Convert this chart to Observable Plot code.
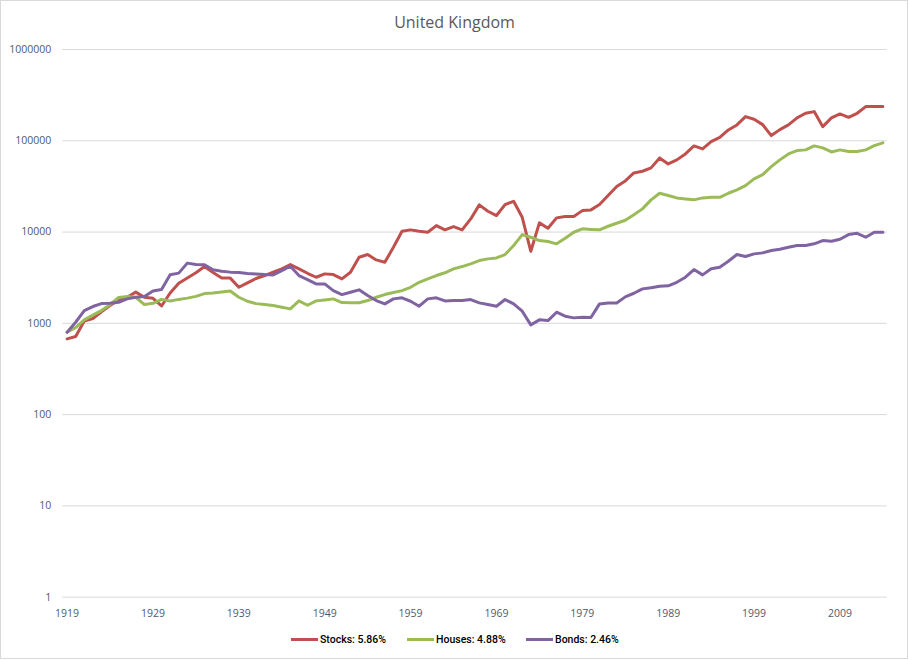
<!DOCTYPE html>
<html>
<head>
<meta charset="utf-8">
<script src="https://cdn.jsdelivr.net/npm/d3@7"></script>
<script src="https://cdn.jsdelivr.net/npm/@observablehq/plot@0.6"></script>
<style>
  html, body { margin: 0; padding: 0; background: #fff; }
  #wrap { position: relative; width: 909px; height: 660px; overflow: hidden; font-family: "Open Sans", sans-serif; }
  #frame { position: absolute; left: 0; top: 0; width: 906px; height: 657px; border: 1px solid #d9d9d9; }
  #title { position: absolute; left: 0; top: 11px; width: 909px; text-align: center; font-size: 16px; line-height: 22px; color: #595959; }
  #chart { position: absolute; left: 0; top: 40px; }
  .lg { position: absolute; top: 631px; height: 16px; display: flex; align-items: center; font-family: Roboto, sans-serif; font-size: 10.5px; font-weight: 500; color: #000; white-space: nowrap; }
  .sw { width: 27px; height: 3px; margin-right: 2px; }
</style>
</head>
<body>
<div id="wrap">
  <div id="frame"></div>
  <div id="title">United Kingdom</div>
  <div id="chart"></div>
  <div id="legend"></div>
</div>
<script>
const years = [1919,1920,1921,1922,1923,1924,1925,1926,1927,1928,
  1929,1930,1931,1932,1933,1934,1935,1936,1937,1938,
  1939,1940,1941,1942,1943,1944,1945,1946,1947,1948,
  1949,1950,1951,1952,1953,1954,1955,1956,1957,1958,
  1959,1960,1961,1962,1963,1964,1965,1966,1967,1968,
  1969,1970,1971,1972,1973,1974,1975,1976,1977,1978,
  1979,1980,1981,1982,1983,1984,1985,1986,1987,1988,
  1989,1990,1991,1992,1993,1994,1995,1996,1997,1998,
  1999,2000,2001,2002,2003,2004,2005,2006,2007,2008,
  2009,2010,2011,2012,2013,2014];

const stocks = [676,717,1060,1130,1340,1567,1800,1932,2200,1932,
  1883,1550,2150,2750,3147,3580,4200,3600,3147,3130,
  2484,2780,3100,3340,3630,3955,4404,3955,3537,3200,
  3483,3420,3070,3630,5297,5675,4955,4670,6820,10200,
  10570,10200,9950,11780,10570,11480,10570,13930,19850,16900,
  15170,20000,21740,14520,6160,12610,11010,14300,14790,14790,
  17180,17500,20000,25100,31500,36300,44460,46350,50470,64900,
  55800,61800,71800,87900,81500,98000,109200,131500,149200,184000,
  172000,150400,114000,132500,149200,178000,200000,208800,142900,178000,
  196900,180800,200000,237000,237000,237000];

const houses = [799,900,1090,1230,1380,1600,1920,1965,1932,1607,
  1660,1830,1760,1830,1890,1975,2120,2145,2200,2260,
  1932,1746,1645,1607,1567,1502,1441,1763,1578,1763,
  1807,1854,1690,1680,1680,1778,1932,2066,2174,2285,
  2484,2818,3070,3340,3580,3955,4188,4480,4875,5085,
  5210,5675,7115,9390,8775,8070,7870,7430,8550,9950,
  10840,10700,10570,11580,12490,13480,15480,17950,22540,26620,
  25120,23670,23080,22540,23670,24050,24050,26620,28950,32300,
  38200,42650,52150,61800,71800,78100,79500,87900,83600,75500,
  79500,76200,76200,79500,88400,94800];

const bonds = [799,1028,1380,1528,1645,1660,1702,1854,1932,1965,
  2265,2350,3410,3550,4570,4404,4390,3870,3720,3640,
  3615,3510,3480,3420,3390,3785,4224,3340,3016,2706,
  2706,2285,2066,2192,2328,2015,1778,1633,1854,1903,
  1746,1540,1854,1903,1760,1778,1778,1823,1675,1607,
  1540,1823,1633,1358,962,1092,1073,1324,1197,1148,
  1166,1157,1633,1675,1675,1950,2137,2386,2449,2549,
  2575,2818,3200,3881,3396,3955,4118,4786,5675,5395,
  5770,5916,6270,6485,6820,7115,7115,7430,8070,7925,
  8340,9390,9700,8775,9950,9950];

const seriesNames = ["Stocks: 5.86%", "Houses: 4.88%", "Bonds: 2.46%"];
const seriesColors = ["#C0504D", "#9BBB59", "#8064A2"];
const seriesValues = [stocks, houses, bonds];

const xTicks = [1919,1929,1939,1949,1959,1969,1979,1989,1999,2009];
const yTicks = [1,10,100,1000,10000,100000,1000000];

const tables = seriesValues.map(vals => years.map((yr, i) => ({year: yr, value: vals[i]})));

const chart = Plot.plot({
  width: 909,
  height: 590,
  marginLeft: 62.3,
  marginRight: 22.3,
  marginTop: 9,
  marginBottom: 33.3,
  style: {fontFamily: "'Open Sans', sans-serif", fontSize: "10.5px", color: "#4f5a6e", background: "transparent", overflow: "visible"},
  x: {type: "linear", domain: [1918.5, 2014.5], ticks: xTicks, tickFormat: d => String(d), tickSize: 0, tickPadding: 12, label: null},
  y: {type: "log", domain: [1, 1000000], ticks: yTicks, tickFormat: d => String(d), tickSize: 0, tickPadding: 11.6, label: null},
  marks: [
    Plot.ruleY(yTicks, {stroke: "#d9d9d9", strokeWidth: 1}),
    ...tables.map((t, k) => Plot.line(t, {x: "year", y: "value", stroke: seriesColors[k], strokeWidth: 3, strokeLinejoin: "round", strokeLinecap: "round"}))
  ]
});
document.getElementById("chart").appendChild(chart);

const legendX = [291, 407, 526];
const legend = document.getElementById("legend");
seriesNames.forEach((name, k) => {
  const item = document.createElement("div");
  item.className = "lg";
  item.style.left = legendX[k] + "px";
  const sw = document.createElement("div");
  sw.className = "sw";
  sw.style.background = seriesColors[k];
  const tx = document.createElement("span");
  tx.textContent = name;
  item.appendChild(sw);
  item.appendChild(tx);
  legend.appendChild(item);
});
</script>
</body>
</html>
